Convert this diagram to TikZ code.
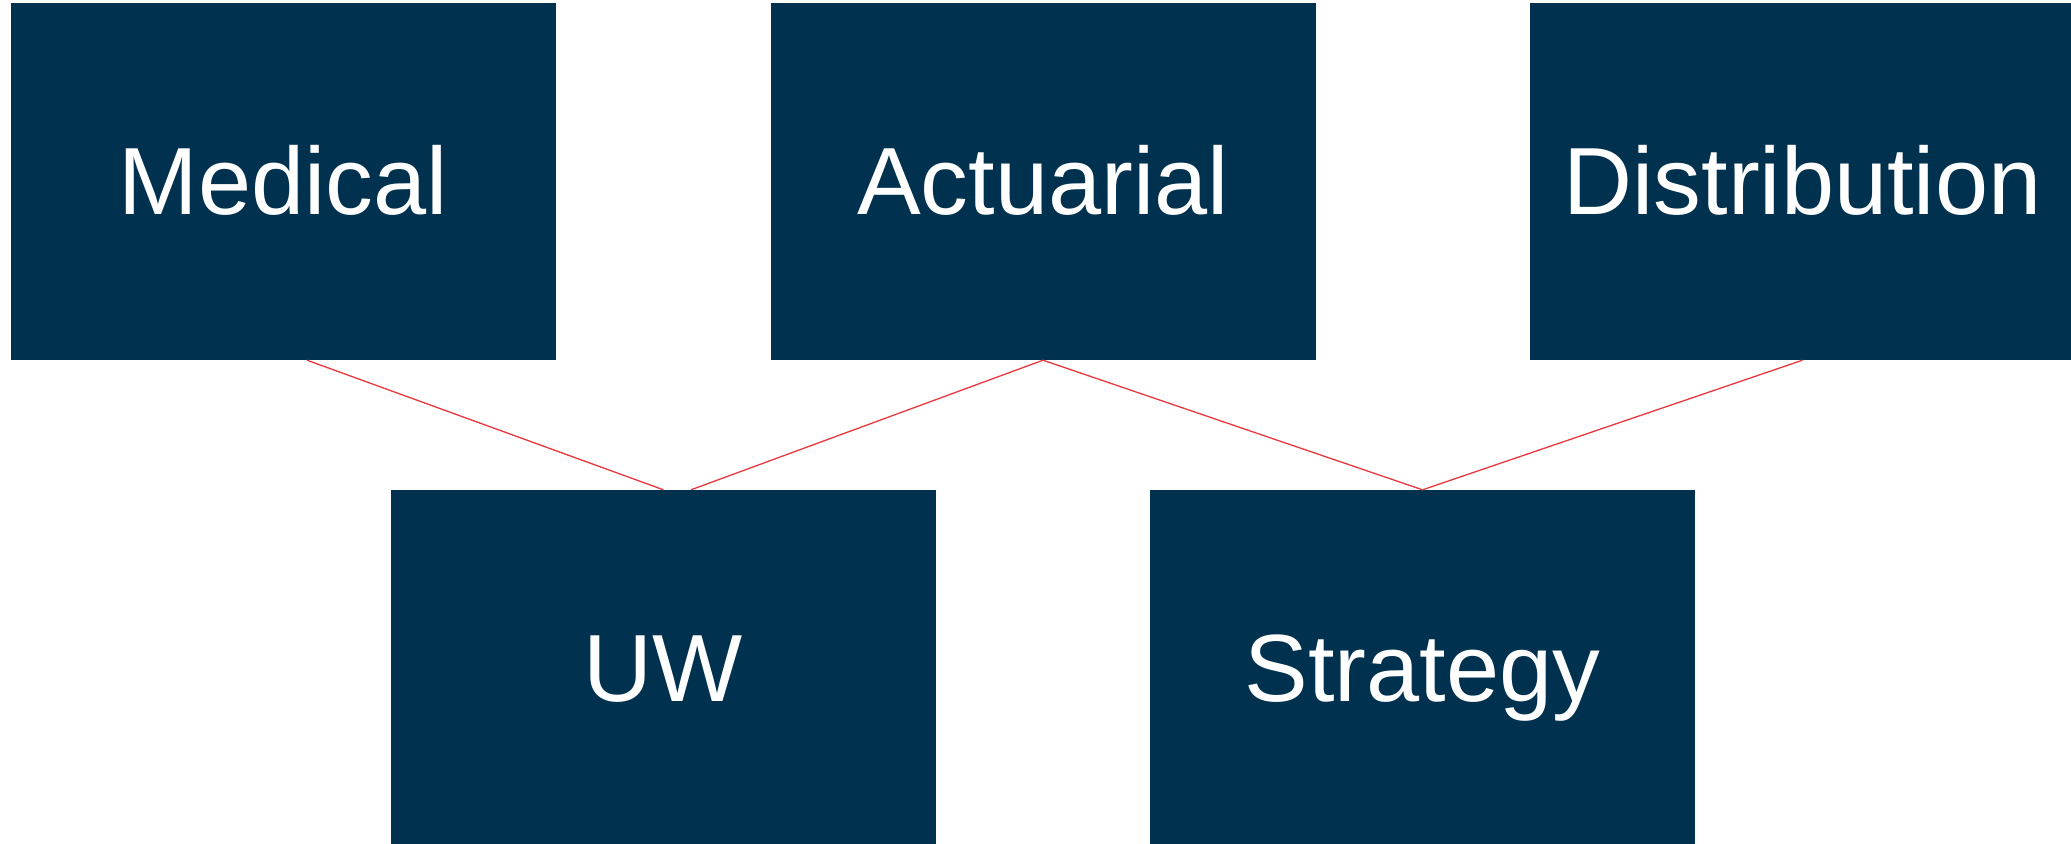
\documentclass[tikz,border=0pt]{standalone}
\usepackage{fontspec}
\setmainfont{Liberation Sans}
\usetikzlibrary{calc}
\definecolor{navy}{RGB}{0,50,80}
\definecolor{linkred}{RGB}{232,56,61}
\begin{document}
\begin{tikzpicture}[x=1pt,y=-1pt,
  unitbox/.style={fill=navy,draw=none,minimum width=545pt,minimum height=357pt,inner sep=0pt,
    text=white,font=\fontsize{95.5}{100}\selectfont,text height=66pt,text depth=0pt},
  link/.style={draw=linkred,line width=1.3pt}]
\useasboundingbox (0,0) rectangle (2071,843);
\clip (0,0) rectangle (2071,843);
\node[unitbox] (med) at (283.5,181.5) {Medical};
\node[unitbox] (act) at (1043,181.5) {Actuarial};
\node[unitbox] (dist) at (1802.5,181.5) {Distribution};
\node[unitbox] (uw) at (663.5,668.5) {UW};
\node[unitbox] (str) at (1422.5,668.5) {Strategy};
\draw[link] ($(med.south)+(23.5,0)$) -- (uw.north);
\draw[link] (act.south) -- ($(uw.north)+(27.5,0)$);
\draw[link] (act.south) -- (str.north);
\draw[link] (dist.south) -- (str.north);
\end{tikzpicture}
\end{document}
